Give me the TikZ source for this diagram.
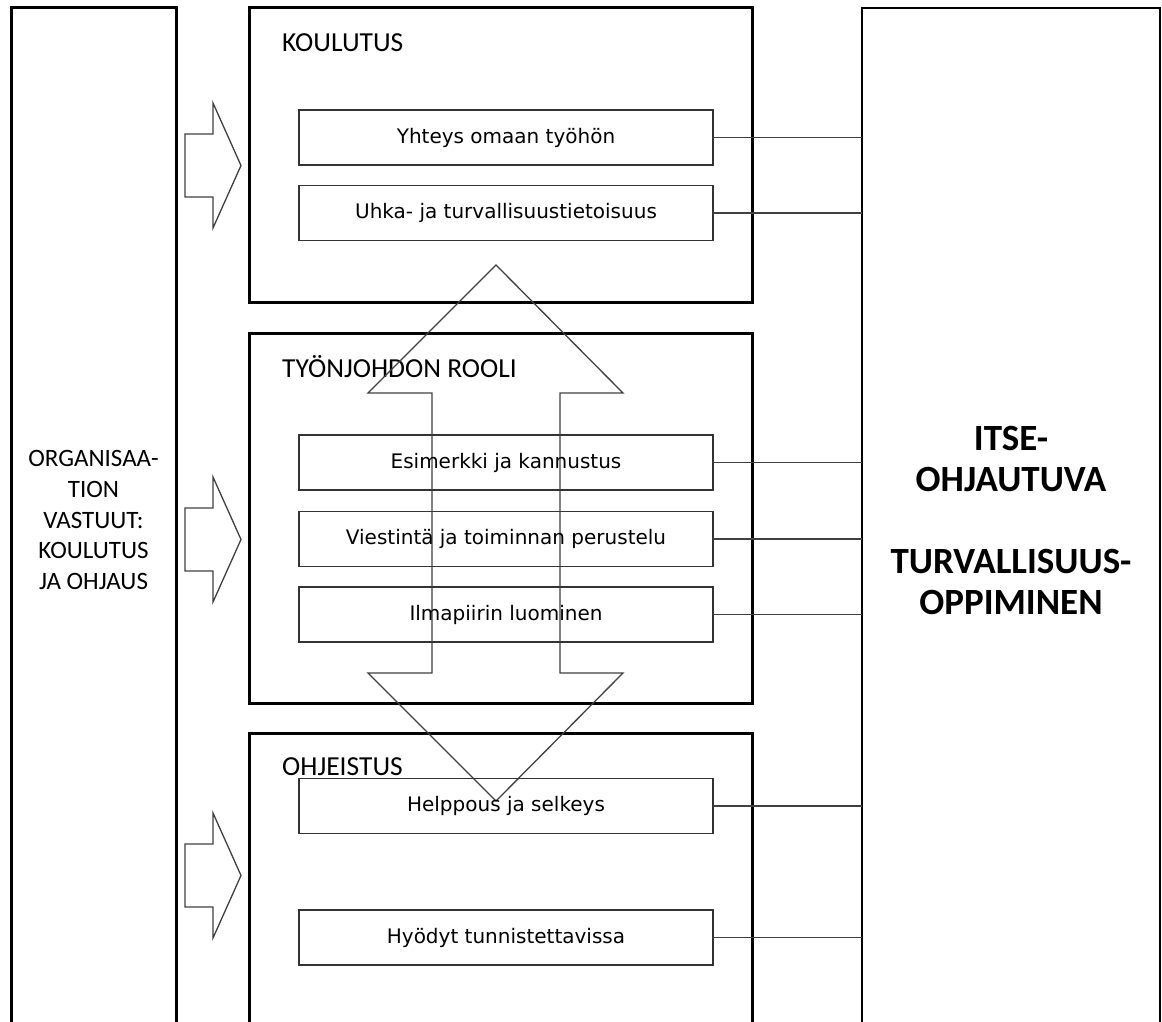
\documentclass[tikz,border=0pt]{standalone}
\usepackage{fontspec}
\setmainfont{Carlito}
\newfontfamily\itemfont{DejaVu Sans}
\begin{document}
\begin{tikzpicture}[x=1pt,y=-1pt,
  frame/.style={draw=black, line width=3pt, inner sep=0pt, outer sep=0pt, anchor=north west},
  goalbox/.style={draw=black, line width=2pt, inner sep=0pt, outer sep=0pt, anchor=north west},
  itembox/.style={draw=black!80, line width=1.6pt, minimum width=414pt, minimum height=55pt,
    inner sep=0pt, outer sep=0pt, font=\itemfont\fontsize{20}{24}\selectfont},
  title/.style={anchor=base west, inner sep=0pt, font=\fontsize{27.5}{32}\selectfont},
  conn/.style={draw=black!75, line width=1.5pt},
  blockarrow/.style={draw=black!75, line width=1.3pt, line join=miter}]
\useasboundingbox (0,0) rectangle (1162,1022);
\clip (0,0) rectangle (1162,1022);

% outer columns
\node[frame, minimum width=165pt, minimum height=1030pt] (org) at (11,8) {};
\node[frame, minimum width=503pt, minimum height=294pt] (koul) at (249,8) {};
\node[frame, minimum width=503pt, minimum height=370pt] (tyon) at (249,333) {};
\node[frame, minimum width=503pt, minimum height=300pt] (ohje) at (249,733) {};
\node[goalbox, minimum width=298pt, minimum height=1030pt] (goal) at (862,8) {};

% column texts
\node[align=center, font=\fontsize{25}{30.8}\selectfont] (orgtext) at (93.5,520)
  {ORGANISAA-\\TION\\VASTUUT:\\KOULUTUS\\JA OHJAUS};
\node[align=center, font=\bfseries\fontsize{37}{41}\selectfont] (goaltext) at (1011,520)
  {ITSE-\\OHJAUTUVA\\[41pt]TURVALLISUUS-\\OPPIMINEN};

% section titles
\node[title] (t1) at (282,52) {KOULUTUS};
\node[title] (t2) at (282,377) {TYÖNJOHDON ROOLI};
\node[title] (t3) at (282,775) {OHJEISTUS};

% vertical double arrow between the sections
\draw[blockarrow] (496,265) -- (623,393) -- (560,393) -- (560,673) -- (623,673)
  -- (496,801) -- (368,673) -- (432,673) -- (432,393) -- (368,393) -- cycle;

% arrows from the organisation column
\foreach \t in {103,477,813}{
  \draw[blockarrow] (185,\t+31) -- (213,\t+31) -- (213,\t) -- (241,\t+62.5)
    -- (213,\t+125) -- (213,\t+94) -- (185,\t+94) -- cycle;
}

% items
\node[itembox] (i1) at (506,137.5) {Yhteys omaan työhön};
\node[itembox] (i2) at (506,213) {Uhka- ja turvallisuustietoisuus};
\node[itembox] (i3) at (506,462.5) {Esimerkki ja kannustus};
\node[itembox] (i4) at (506,539) {Viestintä ja toiminnan perustelu};
\node[itembox] (i5) at (506,614.5) {Ilmapiirin luominen};
\node[itembox] (i6) at (506,806) {Helppous ja selkeys};
\node[itembox] (i7) at (506,937.5) {Hyödyt tunnistettavissa};

% links to the learning column
\foreach \i in {i1,i2,i3,i4,i5,i6,i7}{
  \draw[conn] (\i.east) -- (\i.east -| goal.west);
}
\end{tikzpicture}
\end{document}
